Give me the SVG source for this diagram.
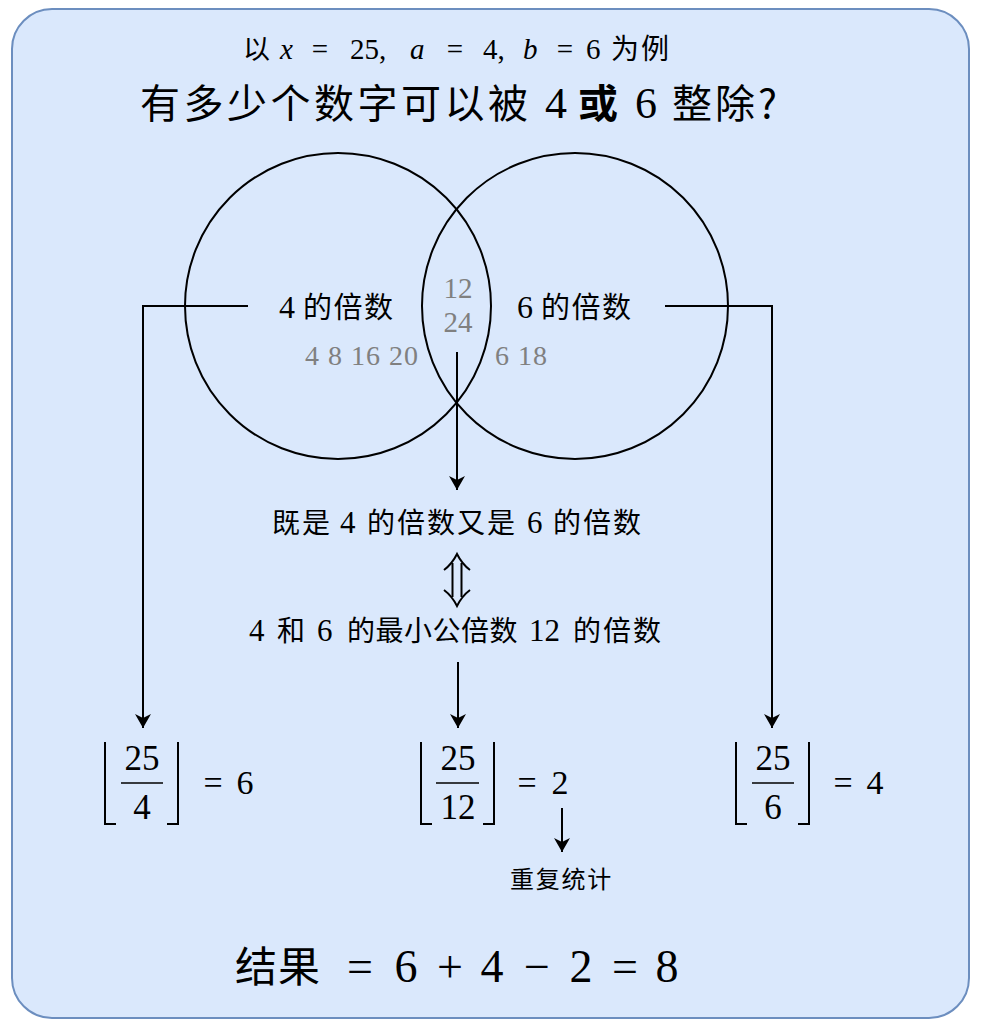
<svg xmlns="http://www.w3.org/2000/svg" width="982" height="1024" viewBox="0 0 982 1024">
<defs>
<marker id="arr" viewBox="0 0 14 16" refX="14" refY="8" markerWidth="14" markerHeight="16" markerUnits="userSpaceOnUse" orient="auto">
<path d="M0,0 L14,8 L0,16 L4,8 Z" fill="#000"/>
</marker>
</defs>
<style>
.g{fill:#808080}
.k{fill:#000}
.ln{stroke:#000;stroke-width:2;fill:none}
.br{stroke:#000;stroke-width:2;fill:none}
</style>
<rect x="12" y="9" width="957" height="1009" rx="40" ry="40" fill="#dae8fc" stroke="#6c8ebf" stroke-width="2"/>

<g id="subtitle" class="k">
<text x="243" y="59" font-size="27" font-family="Noto Sans CJK SC, sans-serif">以</text>
<g font-family="Liberation Serif, serif" font-size="29">
<text x="280" y="59" font-style="italic">x</text>
<text x="320" y="59" text-anchor="middle">=</text>
<text x="350" y="59">25,</text>
<text x="410" y="59" font-style="italic">a</text>
<text x="455" y="59" text-anchor="middle">=</text>
<text x="483" y="59">4,</text>
<text x="523" y="59" font-style="italic">b</text>
<text x="565" y="59" text-anchor="middle">=</text>
<text x="586" y="59">6</text>
</g>
<text x="611" y="59" font-size="28" letter-spacing="2" font-family="Noto Sans CJK SC, sans-serif">为例</text>
</g>

<g id="title" class="k">
<text x="140" y="118" font-size="40" letter-spacing="3.5" font-family="Noto Sans CJK SC, sans-serif">有多少个数字可以被</text>
<text x="545" y="118" font-size="44" font-family="Liberation Serif, serif">4</text>
<text x="578" y="118" font-size="40" font-weight="bold" font-family="Noto Sans CJK SC, sans-serif">或</text>
<text x="635" y="118" font-size="44" font-family="Liberation Serif, serif">6</text>
<text x="672" y="118" font-size="40" letter-spacing="3" font-family="Noto Sans CJK SC, sans-serif">整除?</text>
</g>

<g id="venn">
<circle cx="338" cy="306" r="153" class="ln"/>
<circle cx="575" cy="306" r="153" class="ln"/>
</g>

<g id="set-left" class="k">
<text x="279" y="318" font-size="32" font-family="Liberation Serif, serif">4</text>
<text x="303" y="318" font-size="29" letter-spacing="1.5" font-family="Noto Sans CJK SC, sans-serif">的倍数</text>
<text x="305" y="365" font-size="28" class="g" textLength="113" lengthAdjust="spacing" font-family="Liberation Serif, serif">4 8 16 20</text>
</g>
<g id="set-right" class="k">
<text x="517" y="318" font-size="32" font-family="Liberation Serif, serif">6</text>
<text x="541" y="318" font-size="29" letter-spacing="1.5" font-family="Noto Sans CJK SC, sans-serif">的倍数</text>
<text x="495" y="365" font-size="28" class="g" textLength="52" lengthAdjust="spacing" font-family="Liberation Serif, serif">6 18</text>
</g>
<g id="set-both">
<text x="458" y="298" font-size="29" class="g" text-anchor="middle" font-family="Liberation Serif, serif">12</text>
<text x="458" y="332" font-size="29" class="g" text-anchor="middle" font-family="Liberation Serif, serif">24</text>
</g>

<g id="connectors">
<polyline points="248,306 143,306 143,728" class="ln" marker-end="url(#arr)"/>
<polyline points="665,306 772,306 772,728" class="ln" marker-end="url(#arr)"/>
<line x1="457" y1="352" x2="457" y2="490" class="ln" marker-end="url(#arr)"/>
<line x1="458" y1="662" x2="458" y2="728" class="ln" marker-end="url(#arr)"/>
<line x1="562" y1="808" x2="562" y2="852" class="ln" marker-end="url(#arr)"/>
</g>

<g id="both-text" class="k">
<text x="272" y="533" font-size="28" letter-spacing="2" font-family="Noto Sans CJK SC, sans-serif">既是</text>
<text x="340" y="533" font-size="31" font-family="Liberation Serif, serif">4</text>
<text x="367" y="533" font-size="28" letter-spacing="2" font-family="Noto Sans CJK SC, sans-serif">的倍数又是</text>
<text x="527" y="533" font-size="31" font-family="Liberation Serif, serif">6</text>
<text x="553" y="533" font-size="28" letter-spacing="2" font-family="Noto Sans CJK SC, sans-serif">的倍数</text>
</g>

<g id="iff">
<path d="M444,570 Q452,564 457,554 Q462,564 470,570" class="br" stroke-width="1.8"/>
<path d="M444,590 Q452,596 457,606 Q462,596 470,590" class="br" stroke-width="1.8"/>
<path d="M452.5,563 L452.5,597 M461.5,563 L461.5,597" class="br" stroke-width="1.8"/>
</g>

<g id="lcm-text" class="k">
<text x="249" y="641" font-size="31" font-family="Liberation Serif, serif">4</text>
<text x="277" y="641" font-size="28" font-family="Noto Sans CJK SC, sans-serif">和</text>
<text x="317" y="641" font-size="31" font-family="Liberation Serif, serif">6</text>
<text x="347" y="641" font-size="28" letter-spacing="0.5" font-family="Noto Sans CJK SC, sans-serif">的最小公倍数</text>
<text x="529" y="641" font-size="31" font-family="Liberation Serif, serif">12</text>
<text x="573" y="641" font-size="28" letter-spacing="2" font-family="Noto Sans CJK SC, sans-serif">的倍数</text>
</g>

<g id="f1" class="k" font-family="Liberation Serif, serif" font-size="35">
<path d="M105,742 L105,824 L116,824" class="br"/>
<path d="M178,742 L178,824 L167,824" class="br"/>
<text x="142" y="770" text-anchor="middle">25</text>
<line x1="121" y1="783" x2="163" y2="783" stroke="#000" stroke-width="1.6"/>
<text x="142" y="819" text-anchor="middle">4</text>
<text x="213" y="794" text-anchor="middle" font-size="34">=</text>
<text x="245" y="794" text-anchor="middle" font-size="34">6</text>
</g>

<g id="f2" class="k" font-family="Liberation Serif, serif" font-size="35">
<path d="M421,742 L421,824 L432,824" class="br"/>
<path d="M494,742 L494,824 L483,824" class="br"/>
<text x="458" y="770" text-anchor="middle">25</text>
<line x1="436" y1="783" x2="479" y2="783" stroke="#000" stroke-width="1.6"/>
<text x="458" y="819" text-anchor="middle">12</text>
<text x="527" y="794" text-anchor="middle" font-size="34">=</text>
<text x="560" y="794" text-anchor="middle" font-size="34">2</text>
</g>

<g id="dup" class="k">
<text x="510" y="888" font-size="24" letter-spacing="1.75" font-family="Noto Sans CJK SC, sans-serif">重复统计</text>
</g>

<g id="f3" class="k" font-family="Liberation Serif, serif" font-size="35">
<path d="M736,742 L736,824 L747,824" class="br"/>
<path d="M809,742 L809,824 L798,824" class="br"/>
<text x="773" y="770" text-anchor="middle">25</text>
<line x1="752" y1="783" x2="794" y2="783" stroke="#000" stroke-width="1.6"/>
<text x="773" y="819" text-anchor="middle">6</text>
<text x="843" y="794" text-anchor="middle" font-size="34">=</text>
<text x="875" y="794" text-anchor="middle" font-size="34">4</text>
</g>

<g id="result" class="k">
<text x="235" y="982" font-size="42" letter-spacing="1" font-family="Noto Sans CJK SC, sans-serif">结果</text>
<g font-family="Liberation Serif, serif" font-size="46" text-anchor="middle">
<text x="360" y="982">=</text>
<text x="406" y="982">6</text>
<text x="450" y="982">+</text>
<text x="492" y="982">4</text>
<text x="537" y="982">−</text>
<text x="581" y="982">2</text>
<text x="625" y="982">=</text>
<text x="667" y="982">8</text>
</g>
</g>
</svg>
